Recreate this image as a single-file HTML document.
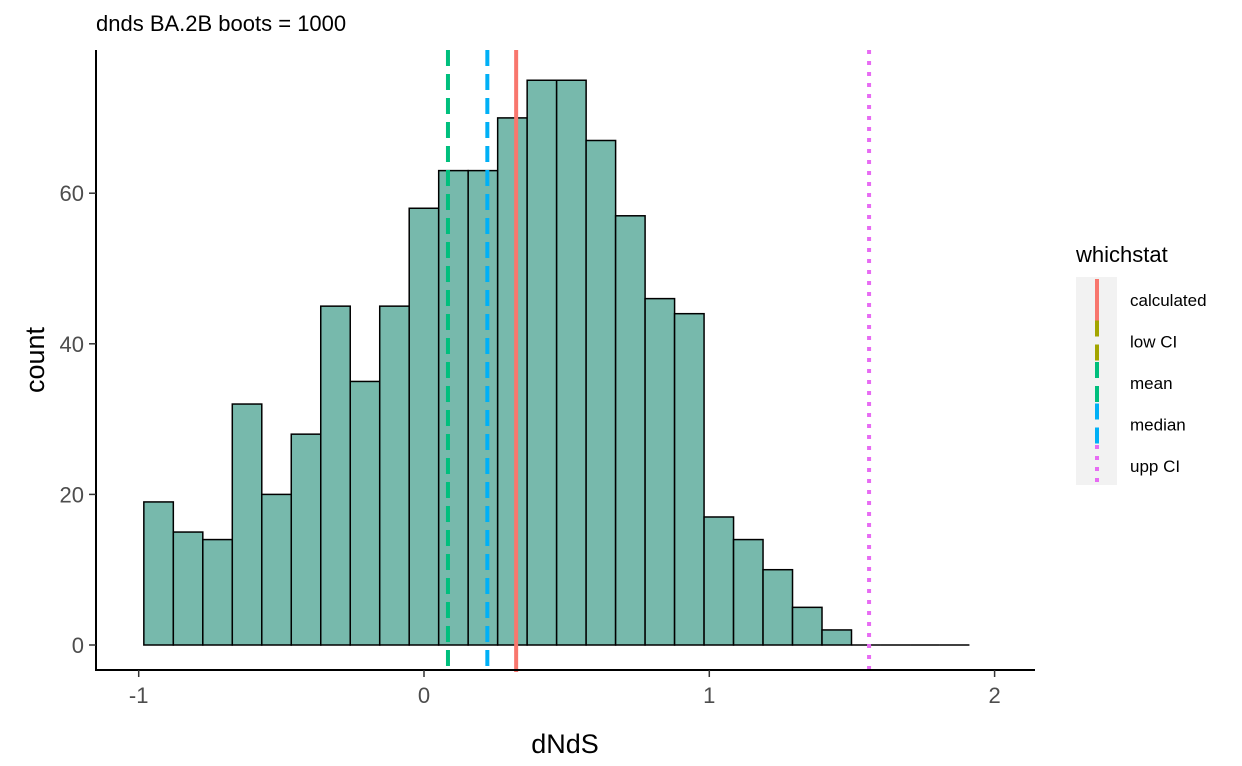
<!DOCTYPE html>
<html><head><meta charset="utf-8"><style>
body{margin:0;background:#fff;}
svg text{font-family:"Liberation Sans",Arial,sans-serif;}
</style></head><body>
<svg id="chart" width="1242" height="761" xmlns="http://www.w3.org/2000/svg">
<text x="96" y="31" font-size="22" fill="#000">dnds BA.2B boots = 1000</text>
<g id="bars"></g>
<g id="vlines"></g>
<line x1="96" y1="50" x2="96" y2="671" stroke="#000" stroke-width="2"/>
<line x1="95" y1="670" x2="1035" y2="670" stroke="#000" stroke-width="2"/>
<g id="xticks"></g>
<g id="yticks"></g>
<text x="565" y="753" font-size="27" text-anchor="middle">dNdS</text>
<text transform="translate(44,360) rotate(-90)" font-size="27" text-anchor="middle">count</text>
<g>
<text x="1076" y="262" font-size="22">whichstat</text>
<rect x="1076" y="277" width="41" height="208" fill="#f2f2f2"/>
<g id="legend"></g>
</g>
</svg>
<script>
const binStart = -0.982;
const binWidth = 0.10335;
const counts = [19,15,14,32,20,28,45,35,45,58,63,63,70,75,75,67,57,46,44,17,14,10,5,2,0,0,0,0];
const xTicks = [-1,0,1,2];
const yTicks = [0,20,40,60];
const statNames = ["calculated","low CI","mean","median","upp CI"];
const statValues = [0.323, null, 0.084, 0.222, 1.56];
const statColors = ["#F8766D","#A3A500","#00BF7D","#00B0F6","#E76BF3"];
const statDash = ["", "16,8", "16,8", "16,8", "4,7"];

const ns="http://www.w3.org/2000/svg";
const X=v=>424+(v)*285.3;
const Y=v=>645-v*7.53;
function mk(t,a,p){const e=document.createElementNS(ns,t);for(const k in a)e.setAttribute(k,a[k]);p.appendChild(e);return e;}
const bars=document.getElementById('bars');
counts.forEach((c,i)=>{
 const x0=X(binStart+i*binWidth),x1=X(binStart+(i+1)*binWidth);
 let r;
 if(c===0){
  r=mk('line',{x1:x0,x2:x1,y1:Y(0),y2:Y(0),stroke:'#000','stroke-width':1.5},bars);
 } else {
  r=mk('rect',{x:x0,y:Y(c),width:x1-x0,height:Y(0)-Y(c),fill:'#77b9ac',stroke:'#000','stroke-width':1.5},bars);
 }
 
 
});
const vl=document.getElementById('vlines');
statValues.forEach((v,i)=>{
 if(v===null)return;
 const l=mk('line',{x1:X(v),x2:X(v),y1:50,y2:672,stroke:statColors[i],'stroke-width':4,'stroke-dasharray':statDash[i]},vl);
 
 
});
const xt=document.getElementById('xticks');
xTicks.forEach(v=>{
 mk('line',{x1:X(v),x2:X(v),y1:670,y2:677,stroke:'#333','stroke-width':1.5},xt);
 const t=mk('text',{x:X(v),y:703,'font-size':22,'text-anchor':'middle',fill:'#4d4d4d'},xt);t.textContent=v;
 
 
});
const yt=document.getElementById('yticks');
yTicks.forEach(v=>{
 mk('line',{x1:89,x2:96,y1:Y(v),y2:Y(v),stroke:'#333','stroke-width':1.5},yt);
 const t=mk('text',{x:84,y:Y(v)+8,'font-size':22,'text-anchor':'end',fill:'#4d4d4d'},yt);t.textContent=v;
 
 
});
const lg=document.getElementById('legend');
statNames.forEach((n,i)=>{
 const cy=300+i*41.5;
 mk('line',{x1:1097,x2:1097,y1:cy-21,y2:cy+21,stroke:statColors[i],'stroke-width':4,'stroke-dasharray':statDash[i]},lg);
 const t=mk('text',{x:1130,y:cy+6,'font-size':17},lg);t.textContent=n;
 
 
});
</script>
</body></html>
